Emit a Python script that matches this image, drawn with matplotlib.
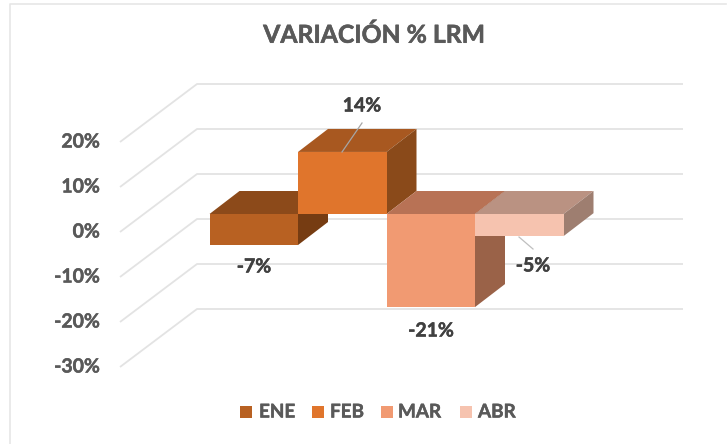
import matplotlib
matplotlib.use("Agg")
import matplotlib.pyplot as plt
import matplotlib.patheffects as pe
from matplotlib.patches import Rectangle

plt.rcParams['font.family'] = ['Lato', 'DejaVu Sans']

TITLE = "VARIACIÓN % LRM"
months = ["ENE", "FEB", "MAR", "ABR"]
values = [-7, 14, -21, -5]
labels = ["-7%", "14%", "-21%", "-5%"]
axis_values = [20, 10, 0, -10, -20, -30]
axis_labels = ["20%", "10%", "0%", "-10%", "-20%", "-30%"]

front_colors = ["#B86122", "#E0752C", "#F19A72", "#F6C3AF"]
top_colors = ["#8C4A1A", "#A85820", "#B87255", "#BA9282"]
side_colors = ["#763C12", "#8A4A1A", "#9A6248", "#9E7E70"]
GRID = "#E3E3E3"
TXT = "#595959"
DARK = "#404040"

W, H = 727, 444
# pixel layout
PX_PER_UNIT_X = 88.5
X0 = 209.5
PX_PER_PCT = 4.5
Y0 = 232.0

fig = plt.figure(figsize=(W / 100, H / 100), dpi=100, facecolor="white")
ax = fig.add_axes([0, 0, 1, 1])
ax.set_xlim(-X0 / PX_PER_UNIT_X, (W - X0) / PX_PER_UNIT_X)
ax.set_ylim((Y0 - H) / PX_PER_PCT, Y0 / PX_PER_PCT)
ax.axis("off")

def px(x):
    return (x - X0) / PX_PER_UNIT_X
def py(y):
    return (Y0 - y) / PX_PER_PCT

def heavy(color, w=0.35):
    return [pe.withStroke(linewidth=w, foreground=color)]

# chart frame
ax.plot([px(10), px(10), px(726)], [py(H), py(4), py(4)], color="#E6E6E6", lw=1.2, zorder=1)

# walls: front edge -> back edge -> right end, one per axis value
DX_WALL = 77 / PX_PER_UNIT_X
DY_WALL = 58 / PX_PER_PCT
for v in axis_values:
    ax.plot([px(120), px(120) + DX_WALL, px(683)], [v, v + DY_WALL, v + DY_WALL],
            color=GRID, lw=1.3, solid_capstyle="butt", zorder=2)

# bars
BAR_BASE = py(214)
BAR_SCALE = 0.985
DX = 30 / PX_PER_UNIT_X
DY = 23 / PX_PER_PCT
for i in range(len(values)):
    v = values[i] * BAR_SCALE
    lo, hi = min(0, v) + BAR_BASE, max(0, v) + BAR_BASE
    z = 3 + i
    ax.fill([i, i + 1, i + 1 + DX, i + DX], [hi, hi, hi + DY, hi + DY],
            color=top_colors[i], lw=0, zorder=z)
    ax.fill([i + 1, i + 1 + DX, i + 1 + DX, i + 1], [hi, hi + DY, lo + DY, lo],
            color=side_colors[i], lw=0, zorder=z)
    ax.bar(i, hi - lo, width=1, bottom=lo, align="edge", color=front_colors[i], lw=0, zorder=z + 0.5)

# leader lines
ax.plot([px(362), px(342)], [py(123), py(152)], color="#A6A6A6", lw=0.9, zorder=9)
ax.plot([px(519), px(533)], [py(237), py(249)], color="#BFBFBF", lw=0.9, zorder=9)

# data labels
label_pos = [(254, 267), (362, 106), (431, 331), (533, 266)]
for s, (x, y) in zip(labels, label_pos):
    ax.text(px(x), py(y), s, ha="center", va="center", color=DARK,
            fontsize=14, fontweight="bold", zorder=10, path_effects=heavy(DARK))

# axis labels
for v, s in zip(axis_values, axis_labels):
    ax.text(px(100), v, s, ha="right", va="center", color=TXT,
            fontsize=14, fontweight="bold", zorder=10, path_effects=heavy(TXT))

# title
ax.text(px(374.5), py(35), TITLE, ha="center", va="center", color=TXT,
        fontsize=17.8, fontweight="bold", zorder=10, path_effects=heavy(TXT, 0.4))

# legend
leg_x = [240, 312, 381, 460]
txt_x = [259, 330, 398, 478]
for name, col, lx, tx in zip(months, front_colors, leg_x, txt_x):
    ax.add_patch(Rectangle((px(lx), py(418)), 12 / PX_PER_UNIT_X, 12 / PX_PER_PCT,
                           color=col, lw=0, zorder=10))
    ax.text(px(tx), py(412), name, ha="left", va="center", color=TXT,
            fontsize=13.6, fontweight="bold", zorder=10, path_effects=heavy(TXT))

fig.savefig("out.png", dpi=100, facecolor="white")
